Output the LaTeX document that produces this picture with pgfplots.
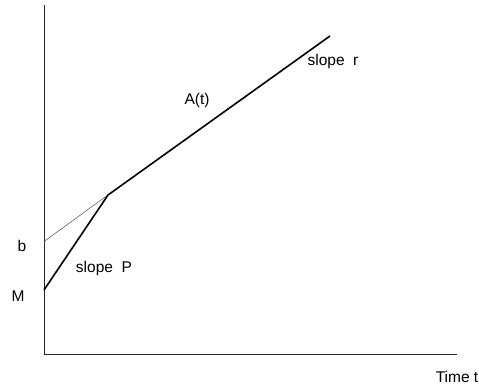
\documentclass[border=0pt]{standalone}
\usepackage{pgfplots}
\pgfplotsset{compat=1.18}
\usepackage{fontspec}
\setmainfont{Liberation Sans}
\tikzset{lbl/.style={font=\fontsize{15.5bp}{18bp}\selectfont, inner sep=0pt}}
\begin{document}
\begin{tikzpicture}
\useasboundingbox (0,0) rectangle (479bp,389bp);
\begin{axis}[
    at={(44bp,35bp)}, anchor=south west,
    scale only axis,
    width=413bp, height=349bp,
    xmin=0, xmax=413,
    ymin=0, ymax=349,
    axis lines=left,
    axis line style={-, line width=0.9bp, black!85},
    xtick=\empty, ytick=\empty,
    clip=false,
]
% thin extension of the upper line back to the y axis
\addplot[black!70, line width=0.5bp] coordinates { (0,112.5) (64,159) };
% A(t)
\addplot[black, line width=1.6bp] coordinates { (0,64) (64,159) (286,318) };

\node[lbl] at (axis cs:153,254) {A(t)};
\node[lbl] at (axis cs:289,293) {slope\ \ r};
\node[lbl] at (axis cs:60,86) {slope\ \ P};
\node[lbl] at (axis cs:-22,108) {b};
\node[lbl] at (axis cs:-26,58) {M};
\node[lbl, anchor=east] at (axis cs:434.5,-23) {Time t};
\end{axis}
\end{tikzpicture}
\end{document}
